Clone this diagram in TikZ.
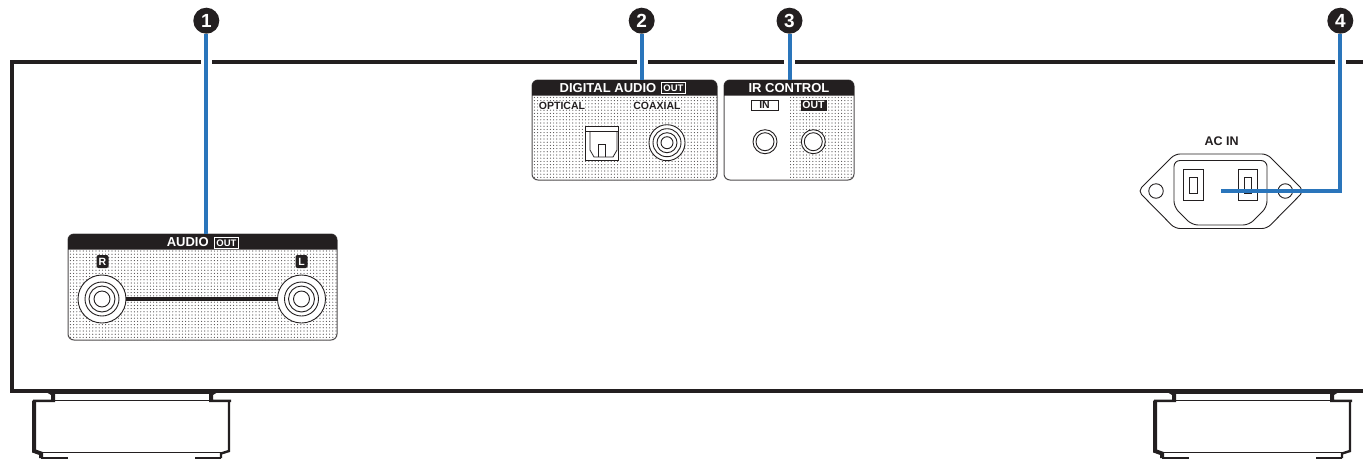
\documentclass[tikz,border=0pt]{standalone}
\usepackage{fontspec}
\setmainfont{Liberation Sans}
\usetikzlibrary{patterns.meta}
\definecolor{leadblue}{HTML}{2A75BB}
\definecolor{inkblack}{HTML}{231F20}
\tikzset{
    base/.style={inner sep=0pt, outer sep=0pt, align=center, font=\bfseries\fontsize{10.5}{11}\selectfont, text=inkblack},
    headtext/.style={base, text=white, font=\bfseries\fontsize{13}{13}\selectfont},
    outbox/.style={base, draw=white, line width=0.8pt, text=white, minimum width=24pt, minimum height=10.5pt, font=\bfseries\fontsize{9.5}{10}\selectfont},
    sidetag/.style={base, fill=inkblack, text=white, rounded corners=2pt, minimum width=12pt, minimum height=13pt, font=\bfseries\fontsize{10.5}{11}\selectfont},
    dotted panel/.style={pattern={Dots[distance=3.2pt, radius=0.6pt]}, pattern color=inkblack!80},
    panelbox/.style={draw=inkblack!80, line width=1pt, rounded corners=6pt, inner sep=0pt, outer sep=0pt},
    jack/.style={circle, draw=inkblack, fill=white, line width=0.9pt, inner sep=0pt, outer sep=0pt},
    marker/.style={circle, fill=inkblack, text=white, minimum size=26pt, inner sep=0pt, outer sep=0pt, font=\bfseries\fontsize{19}{19}\selectfont},
    lead/.style={draw=leadblue, line width=4pt},
    frame/.style={draw=inkblack, line width=4pt},
    thin part/.style={draw=inkblack, line width=1pt}
}
\begin{document}
\begin{tikzpicture}[x=1pt, y=-1pt]
\useasboundingbox (0,0) rectangle (1363,459);
% cabinet outline
\draw[frame] (1363,61.5) -- (1346,61.5);
\draw[frame] (1335,61.5) -- (795,61.5);
\draw[frame] (784,61.5) -- (648,61.5);
\draw[frame] (637,61.5) -- (212,61.5);
\draw[frame] (201,61.5) -- (11.5,61.5) -- (11.5,390.5) -- (1363,390.5);
% feet
\foreach \fx in {0,1121} {
\begin{scope}[xshift=\fx pt]
\fill[inkblack] (42,389.5) -- (55,392) -- (55,402) -- (33,402) -- (33,399.5) -- (51,399.5) -- (51,395) -- cycle;
\fill[inkblack] (222,389.5) -- (209,392) -- (209,402) -- (231,402) -- (231,399.5) -- (213,399.5) -- (213,395) -- cycle;
\draw[thin part] (55,393.5) -- (209,393.5);
\draw[thin part] (55,400.5) -- (209,400.5);
\draw[frame] (34,400.5) -- (34,451) -- (41,453.5) -- (41,458);
\draw[frame, line width=2.4pt] (229,400.5) -- (229,451) -- (221,453.5) -- (221,458);
\draw[thin part] (41,452) -- (221,452);
\draw[frame, line width=2.6pt] (41,458) -- (68,458);
\draw[frame, line width=2.6pt] (195,458) -- (221,458);
\end{scope}
}
% panels
\node[panelbox, dotted panel, minimum width=269pt, minimum height=106pt] (audio) at (202.5,287) {};
\node[panelbox, dotted panel, minimum width=185pt, minimum height=100pt] (digital) at (624.5,130) {};
\fill[dotted panel] (790,96) rectangle (853,178);
\node[panelbox, minimum width=130pt, minimum height=100pt] (ir) at (789,130) {};
\foreach \panel in {audio,digital,ir} {
\fill[inkblack] (\panel.north west) ++(0,15.5) [rounded corners=6pt] -- (\panel.north west) -- (\panel.north east) [sharp corners] -- ++(0,15.5) -- cycle;
}
% audio out
\node[headtext] (audiotitle) at (187.7,242.5) {AUDIO};
\node[outbox] (audioout) at (226.5,243) {OUT};
\node[sidetag] (tagR) at (102.5,261.5) {R};
\node[sidetag] (tagL) at (301.5,261.5) {L};
\node[jack, minimum size=48pt] (jackR) at (102,299) {};
\node[jack, minimum size=48pt] (jackL) at (301.5,299) {};
\foreach \jk in {jackR,jackL} {
\foreach \rr in {17,13,8} {
\draw[inkblack, line width=0.9pt] (\jk) circle (\rr pt);
}
}
\draw[inkblack, line width=4.5pt] (jackR.east) -- (jackL.west);
% digital audio out
\node[headtext] (digitaltitle) at (608,88) {DIGITAL AUDIO};
\node[outbox] (digitalout) at (673.5,88) {OUT};
\node[base, fill=white] (optical) at (562,105.5) {OPTICAL};
\node[base, fill=white] (coaxial) at (657,105.5) {COAXIAL};
\node[draw=inkblack, fill=white, line width=0.9pt, minimum width=33.5pt, minimum height=33.5pt, inner sep=0pt] (optic) at (602,143.5) {};
\draw[inkblack, line width=0.8pt] (585.5,131) -- (618.5,131);
\draw[inkblack, line width=0.8pt] (590,131) -- (590,150) -- (594,157) -- (613,157) -- (617,150) -- (617,131);
\draw[inkblack, line width=0.8pt] (598.5,157) -- (598.5,144) -- (605.5,144) -- (605.5,157);
\node[jack, minimum size=36pt] (coax) at (667,142.7) {};
\foreach \rr in {14,10,6} {
\draw[inkblack, line width=0.9pt] (coax) circle (\rr pt);
}
% ir control
\node[headtext] (irtitle) at (789,88) {IR CONTROL};
\node[base, draw=inkblack, fill=white, line width=1pt, minimum width=27pt, minimum height=10pt] (irin) at (764.5,105) {IN};
\node[base, fill=inkblack, text=white, minimum width=26pt, minimum height=11pt] (irout) at (813.5,105) {OUT};
\node[jack, minimum size=24pt] (jackin) at (765,141.7) {};
\node[jack, minimum size=24pt] (jackout) at (813.3,141.7) {};
\foreach \jk in {jackin,jackout} {
\draw[inkblack, line width=0.9pt] (\jk) circle (9pt);
}
% ac inlet
\node[base, font=\bfseries\fontsize{12.5}{13}\selectfont] (acin) at (1221.7,141) {AC IN};
\draw[inkblack, line width=0.9pt, rounded corners=5pt] (1175,154) -- (1267,154) -- (1304,191) -- (1267,228.5) -- (1175,228.5) -- (1138,191) -- cycle;
\draw[inkblack, line width=0.9pt, rounded corners=6pt] (1174,160.5) -- (1267,160.5) -- (1267,207) -- (1249,225) -- (1192,225) -- (1174,207) -- cycle;
\draw[inkblack, line width=0.9pt] (1183.5,169.5) rectangle (1203.5,200.5);
\draw[inkblack, line width=0.9pt] (1189.5,177.5) rectangle (1197.5,193);
\draw[inkblack, line width=0.9pt] (1238,169.5) rectangle (1257.5,200.5);
\draw[inkblack, line width=0.9pt] (1244,177.5) rectangle (1251.5,193);
\node[circle, draw=inkblack, line width=0.9pt, minimum size=14.5pt, inner sep=0pt] (screwL) at (1156,191) {};
\node[circle, draw=inkblack, line width=0.9pt, minimum size=14.5pt, inner sep=0pt] (screwR) at (1285.3,191) {};
% markers and leads
\node[marker] (mark1) at (206.3,20.7) {1};
\node[marker] (mark2) at (641.7,20.7) {2};
\node[marker] (mark3) at (789.5,20.7) {3};
\node[marker] (mark4) at (1340.3,20.7) {4};
\coordinate (acend) at (1220.7,191);
\draw[lead] (mark1) -- (mark1 |- audio.north);
\draw[lead] (mark2) -- (mark2 |- digital.north);
\draw[lead] (mark3) -- (mark3 |- ir.north);
\draw[lead] (mark4) |- (acend);
\end{tikzpicture}
\end{document}
